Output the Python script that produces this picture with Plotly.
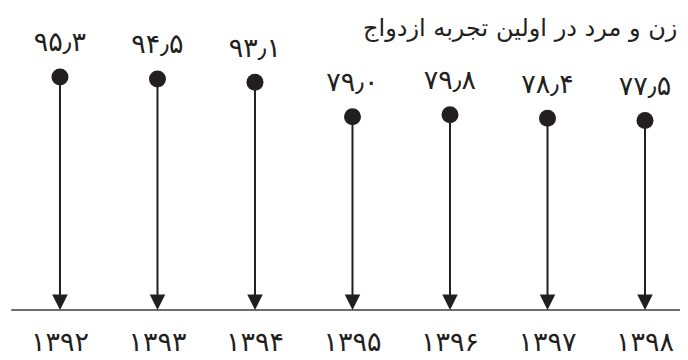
import plotly.graph_objects as go

years = ["۱۳۹۲", "۱۳۹۳", "۱۳۹۴", "۱۳۹۵", "۱۳۹۶", "۱۳۹۷", "۱۳۹۸"]
values = [95.3, 94.5, 93.1, 79.0, 79.8, 78.4, 77.5]
value_labels = ["۹۵٫۳", "۹۴٫۵", "۹۳٫۱", "۷۹٫۰", "۷۹٫۸", "۷۸٫۴", "۷۷٫۵"]
title_text = "زن و مرد در اولین تجربه ازدواج"

FONT = "DejaVu Sans"
DOT = "#231f20"
xs = list(range(len(years)))

fig = go.Figure()

# baseline
fig.add_shape(type="line", xref="x", yref="y", x0=-0.5, x1=7, y0=0, y1=0,
              line=dict(color="#6d6e71", width=2), layer="below")

# arrows from dot to baseline
for x, v in zip(xs, values):
    fig.add_annotation(x=x, y=0, ax=x, ay=v, xref="x", yref="y",
                       axref="x", ayref="y", text="", showarrow=True,
                       arrowhead=2, arrowsize=1.55, arrowwidth=2,
                       arrowcolor="#231f20")

# dots
fig.add_trace(go.Scatter(x=xs, y=values, mode="markers",
                         marker=dict(size=17, color=DOT), hoverinfo="skip"))

# value labels
fig.add_trace(go.Scatter(x=xs, y=[v + 13.3 for v in values], mode="text",
                         text=value_labels,
                         textfont=dict(family=FONT, size=27, color=DOT),
                         hoverinfo="skip"))

# year labels
fig.add_trace(go.Scatter(x=xs, y=[-14.2] * len(xs), mode="text", text=years,
                         textfont=dict(family=FONT, size=27, color=DOT),
                         hoverinfo="skip"))

fig.add_annotation(xref="paper", yref="paper", x=0.519, y=1.0, yshift=-20,
                   xanchor="left", yanchor="middle", showarrow=False,
                   text=title_text, font=dict(family=FONT, size=24, color=DOT))

fig.update_layout(
    width=680, height=352, margin=dict(l=0, r=0, t=0, b=0),
    paper_bgcolor="white", plot_bgcolor="white", showlegend=False,
    xaxis=dict(range=[-0.533, 6.441], visible=False, fixedrange=True),
    yaxis=dict(range=[-20.45, 123.5], visible=False, fixedrange=True),
)

fig.write_html("out.html")
